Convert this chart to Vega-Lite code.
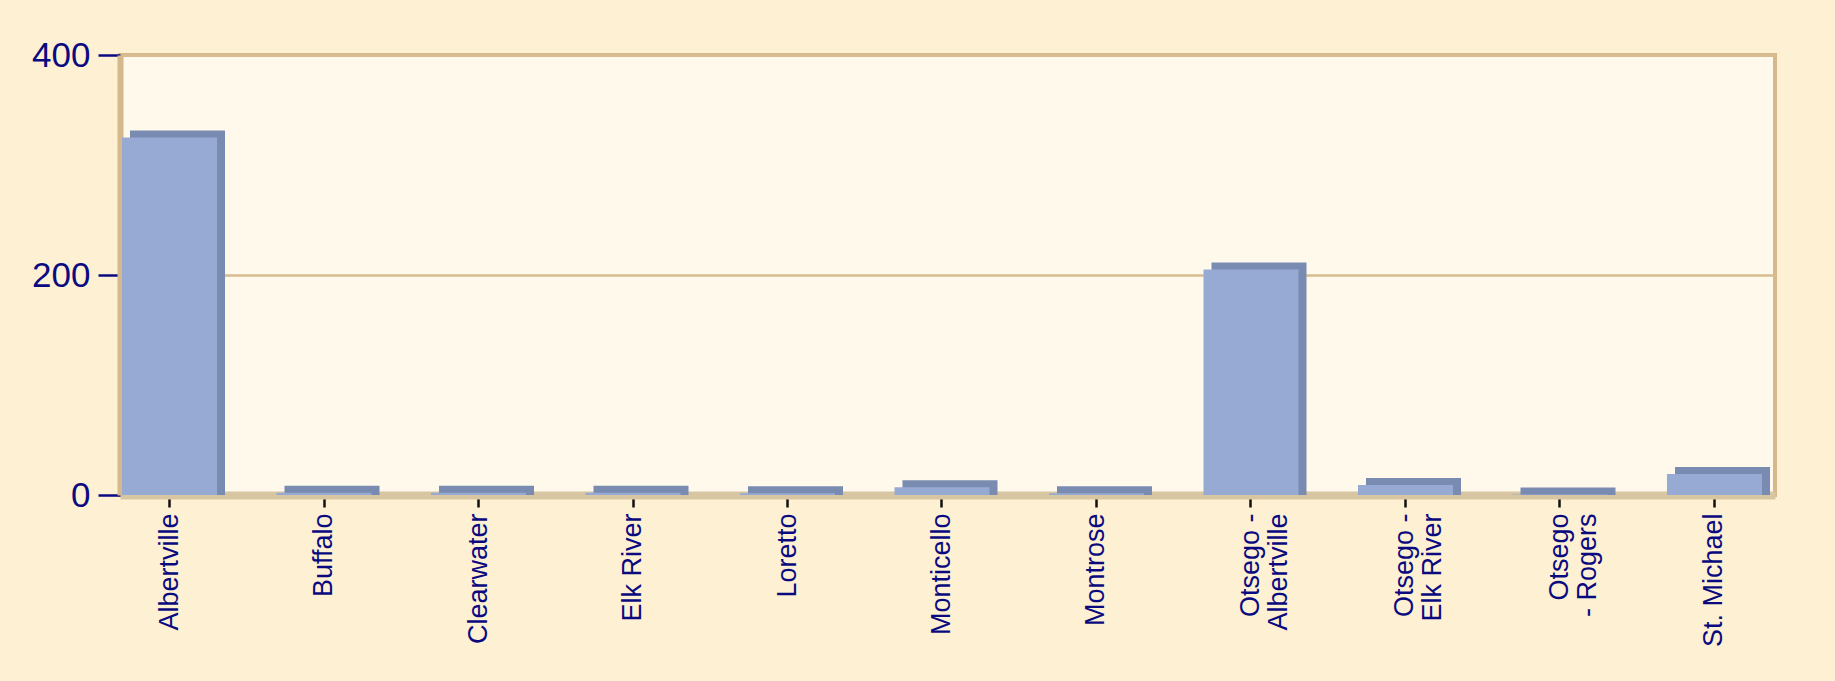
{
  "$schema": "https://vega.github.io/schema/vega-lite/v6.json",
  "width": 1655,
  "height": 440,
  "autosize": {"type": "none"},
  "padding": {"left": 120, "top": 55, "right": 60, "bottom": 186},
  "background": "#FEF0D3",
  "config": {
    "view": {"fill": "#FFF9EC", "stroke": "#D5B88C", "strokeWidth": 4},
    "font": "Liberation Sans"
  },
  "data": {
    "values": [
      {"place": "Albertville", "value": 325},
      {"place": "Buffalo", "value": 2},
      {"place": "Clearwater", "value": 2},
      {"place": "Elk River", "value": 2},
      {"place": "Loretto", "value": 1.5},
      {"place": "Monticello", "value": 7},
      {"place": "Montrose", "value": 1.5},
      {"place": "Otsego -\nAlbertville", "value": 205},
      {"place": "Otsego -\nElk River", "value": 9},
      {"place": "Otsego\n- Rogers", "value": 0.5},
      {"place": "St. Michael", "value": 19}
    ]
  },
  "encoding": {
    "x": {
      "field": "place",
      "type": "nominal",
      "sort": null,
      "scale": {"paddingInner": 0.385, "paddingOuter": 0.0485, "align": 0.133},
      "axis": {
        "title": null,
        "labelAngle": -90,
        "labelFontSize": 27,
        "labelColor": "#0A0A80",
        "labelLineHeight": 28,
        "labelExpr": "split(datum.label, '\\n')",
        "labelPadding": 6,
        "tickColor": "#111111",
        "tickWidth": 2.5,
        "tickSize": 12,
        "domainColor": "#D8C6A2",
        "domainWidth": 8,
        "grid": false
      }
    },
    "y": {
      "field": "value",
      "type": "quantitative",
      "scale": {"domain": [0, 400], "nice": false},
      "axis": {
        "title": null,
        "values": [0, 200, 400],
        "labelFontSize": 35,
        "labelColor": "#0A0A80",
        "labelPadding": 8,
        "tickColor": "#0A0A80",
        "tickWidth": 2.5,
        "tickSize": 22,
        "domainColor": "#D5B88C",
        "domainWidth": 6,
        "grid": true,
        "gridColor": "#D8BC90",
        "gridWidth": 2.5
      }
    }
  },
  "layer": [
    {
      "mark": {"type": "bar", "color": "#7A8BB2", "xOffset": 8, "x2Offset": 8, "yOffset": -7, "y2Offset": 0},
      "encoding": {
        "y": {"field": "value", "type": "quantitative", "stack": null},
        "y2": {"datum": 0}
      }
    },
    {
      "mark": {"type": "bar", "color": "#97AAD4"}
    }
  ]
}
